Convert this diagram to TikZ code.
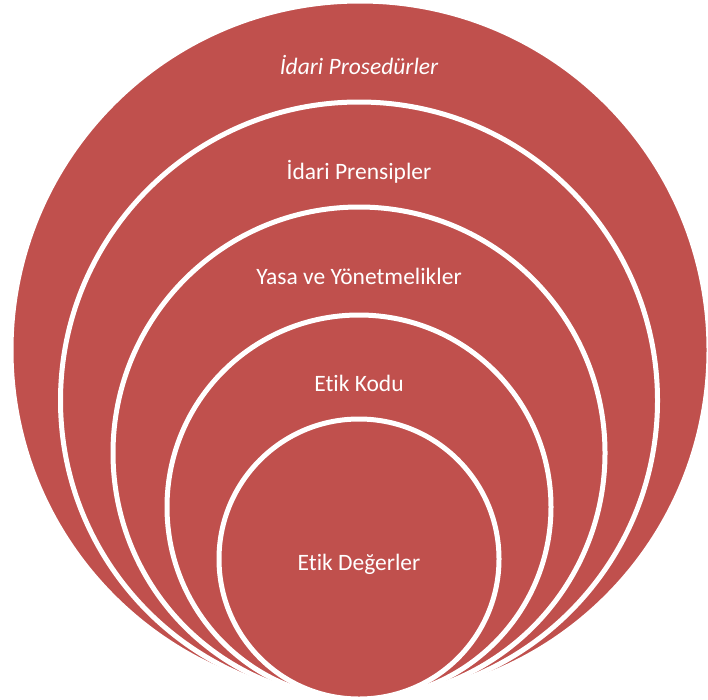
\documentclass[tikz,border=0pt]{standalone}
\usepackage{fontspec}
\setmainfont[Ligatures=NoCommon]{Carlito}
\definecolor{ringred}{HTML}{C0504D}
\begin{document}
\begin{tikzpicture}[x=1pt,y=-1pt,
  ring/.style={circle,fill=ringred,draw=white,line width=5pt,inner sep=0pt},
  lbl/.style={text=white,font=\fontsize{23.5}{27}\selectfont,inner sep=0pt,anchor=base}]
\useasboundingbox (0,0) rectangle (708,699);
\fill[ringred,draw=white,line width=5pt] (360,350) circle (349);
\node[ring,minimum size=597pt] (c2) at (359,400.5) {};
\node[ring,minimum size=492pt] (c3) at (359,453) {};
\node[ring,minimum size=384pt] (c4) at (359,507) {};
\node[ring,minimum size=280pt] (c5) at (359,559) {};
\node[lbl,font=\fontsize{23.5}{27}\selectfont\itshape] (t1) at (359,74) {İdari Prosedürler};
\node[lbl] (t2) at (359,179) {İdari Prensipler};
\node[lbl] (t3) at (359,284) {Yasa ve Yönetmelikler};
\node[lbl] (t4) at (359,391) {Etik Kodu};
\node[lbl] (t5) at (359,570) {Etik Değerler};
\end{tikzpicture}
\end{document}
